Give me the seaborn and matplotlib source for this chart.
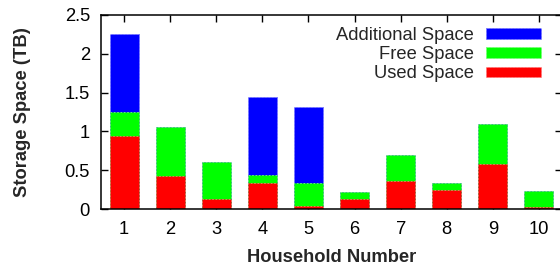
import matplotlib
matplotlib.use("Agg")
import matplotlib.pyplot as plt
import seaborn as sns
import pandas as pd
from matplotlib.patches import Patch

households = ["1", "2", "3", "4", "5", "6", "7", "8", "9", "10"]
used = [0.94, 0.43, 0.13, 0.33, 0.04, 0.13, 0.36, 0.25, 0.58, 0.03]
free = [0.31, 0.63, 0.48, 0.11, 0.29, 0.09, 0.33, 0.09, 0.52, 0.20]
additional = [1.00, 0.00, 0.00, 1.00, 0.99, 0.00, 0.00, 0.00, 0.00, 0.00]

sns.set_style("ticks")
plt.rcParams['font.family'] = ['Liberation Sans', 'DejaVu Sans']

df = pd.DataFrame({"house": households, "used": used, "free": free, "additional": additional})
df["level2"] = df["used"] + df["free"]
df["level3"] = df["level2"] + df["additional"]

FS = 13.2
fig = plt.figure(figsize=(5.6, 2.67), dpi=100)
ax = fig.add_axes([101 / 560, 1 - 209 / 267, 461 / 560, 194 / 267])

layers = [("level3", "#0000ff", "#7070ff"), ("level2", "#00ff00", "#70ff70"), ("used", "#ff0000", "#ff7070")]
for col, c, ec in layers:
    sns.barplot(data=df, x="house", y=col, color=c, width=0.63, ax=ax,
                edgecolor=ec, linewidth=0.6, linestyle=(0, (2, 2)), saturation=1)

ax.set_xlim(-0.5, 9.5)
ax.set_ylim(0, 2.5)
ax.set_yticks([0, 0.5, 1, 1.5, 2, 2.5])
ax.set_yticklabels(["0", "0.5", "1", "1.5", "2", "2.5"])
ax.tick_params(direction="in", top=True, right=True, length=5, width=1, labelsize=FS, colors="black")
ax.tick_params(axis="y", pad=8)
ax.tick_params(axis="x", pad=9)
for s in ax.spines.values():
    s.set_visible(True)
    s.set_linewidth(1.1)
    s.set_color("black")
ax.set_xlabel("Household Number", fontsize=FS, fontweight="bold")
ax.set_ylabel("Storage Space (TB)", fontsize=FS, fontweight="bold")
ax.xaxis.set_label_coords(0.5, -0.205)
ax.yaxis.set_label_coords(-0.152, 0.5)

handles = [Patch(facecolor="#0000ff", edgecolor="#7070ff", linestyle=(0, (2, 2)), linewidth=0.6),
           Patch(facecolor="#00ff00", edgecolor="#70ff70", linestyle=(0, (2, 2)), linewidth=0.6),
           Patch(facecolor="#ff0000", edgecolor="#ff7070", linestyle=(0, (2, 2)), linewidth=0.6)]
ax.legend(handles, ["Additional Space", "Free Space", "Used Space"], loc="upper right",
          bbox_to_anchor=(541 / 560, 1 - 27 / 267), bbox_transform=fig.transFigure,
          frameon=False, markerfirst=False, fontsize=FS, borderpad=0, borderaxespad=0,
          handlelength=3.0, handleheight=0.5, labelspacing=0.12, handletextpad=0.65)

fig.savefig("out.png", dpi=100)
